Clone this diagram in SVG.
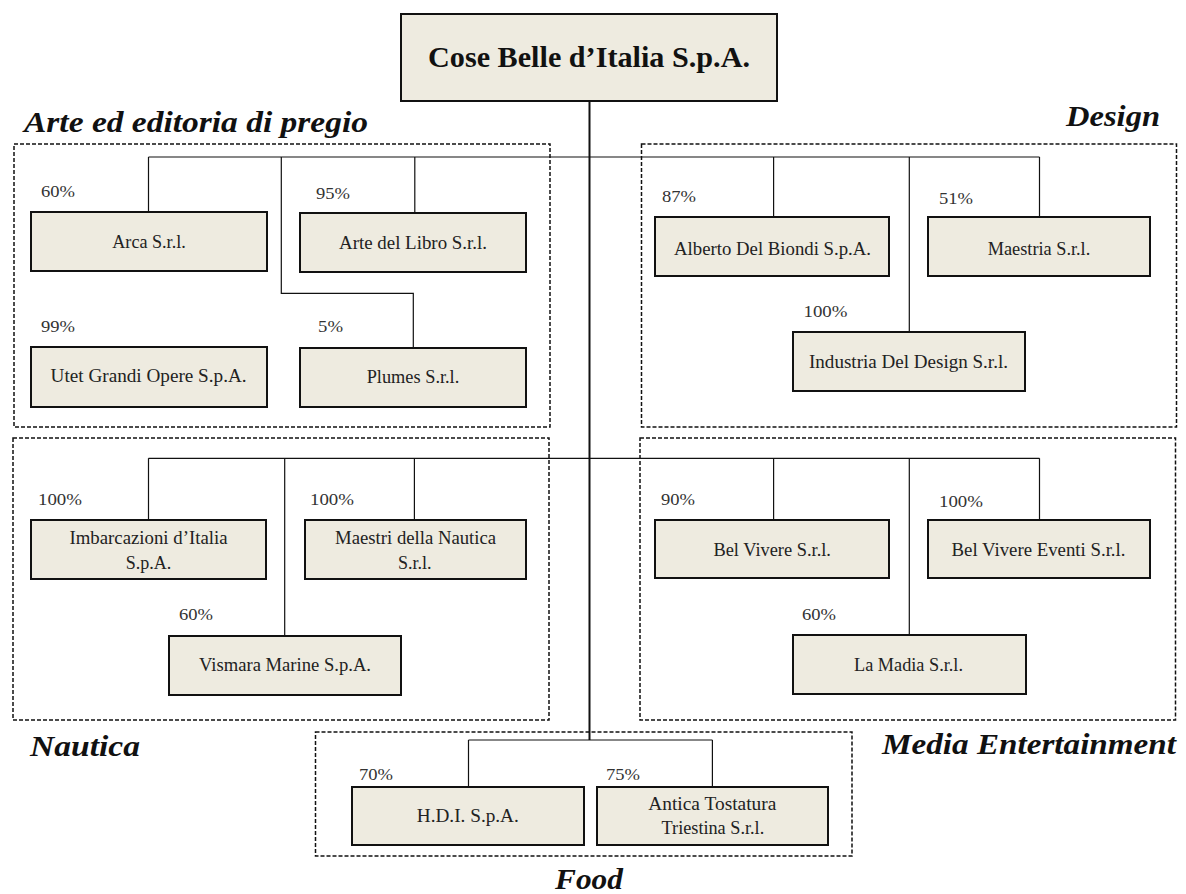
<svg xmlns="http://www.w3.org/2000/svg" width="1186" height="894" viewBox="0 0 1186 894">
<style>
.box{fill:#EEEBE0;stroke:#111;stroke-width:2}
.grp{fill:none;stroke:#111;stroke-width:1.5;stroke-dasharray:4 2}
.ln{fill:none;stroke:#111;stroke-width:1.2}
.trunk{fill:none;stroke:#111;stroke-width:2}
.t{font-family:"Liberation Serif","Times New Roman",serif;font-size:19px;fill:#222;text-anchor:middle}
.p{font-family:"Liberation Serif","Times New Roman",serif;font-size:16px;fill:#333}
.h{font-family:"Liberation Serif","Times New Roman",serif;font-size:30px;font-weight:bold;font-style:italic;fill:#111}
.title{font-family:"Liberation Serif","Times New Roman",serif;font-size:30px;font-weight:bold;fill:#111;text-anchor:middle}
</style>
<rect width="1186" height="894" fill="#fff"/>
<g id="groups">
<rect class="grp" x="14" y="144" width="536" height="283"/>
<rect class="grp" x="641.5" y="144" width="535" height="283"/>
<rect class="grp" x="13" y="438" width="536" height="282"/>
<rect class="grp" x="640" y="438" width="535.5" height="282"/>
<rect class="grp" x="315.5" y="732" width="536.5" height="124"/>
</g>
<g id="group-labels">
<text class="h" x="24" y="132" textLength="344" lengthAdjust="spacingAndGlyphs">Arte ed editoria di pregio</text>
<text class="h" x="1066" y="126" textLength="94" lengthAdjust="spacingAndGlyphs">Design</text>
<text class="h" x="30" y="756" textLength="110" lengthAdjust="spacingAndGlyphs">Nautica</text>
<text class="h" x="882" y="754" textLength="294" lengthAdjust="spacingAndGlyphs">Media Entertainment</text>
<text class="h" x="555" y="889" textLength="68" lengthAdjust="spacingAndGlyphs">Food</text>
</g>
<g id="connectors">
<path class="trunk" d="M589.5 101V740"/>
<path class="ln" d="M148.5 157H1039.5"/>
<path class="ln" d="M148.5 157V212M414.8 157V213M281.3 157V293.3H413.3V348M773.6 157V217M909.3 157V332M1039.5 157V217"/>
<path class="ln" d="M148.5 458.3H1039.5"/>
<path class="ln" d="M148.5 458.3V520M414.4 458.3V520M284.7 458.3V636M773.6 458.3V520M909.3 458.3V635M1039.5 458.3V520"/>
<path class="ln" d="M468.5 740H712.4M468.5 740V787M712.4 740V787"/>
</g>
<g id="node-root">
<rect class="box" x="401" y="14" width="376" height="87"/>
<text class="title" x="589" y="67" textLength="322" lengthAdjust="spacingAndGlyphs">Cose Belle d’Italia S.p.A.</text>
</g>
<g id="node-arca">
<rect class="box" x="31" y="212" width="236" height="59"/>
<text class="t" x="149" y="248" textLength="73.5" lengthAdjust="spacingAndGlyphs">Arca S.r.l.</text>
<text class="p" x="41" y="197" textLength="34" lengthAdjust="spacingAndGlyphs">60%</text>
</g>
<g id="node-arte-libro">
<rect class="box" x="300" y="213" width="226" height="59"/>
<text class="t" x="413" y="249" textLength="148" lengthAdjust="spacingAndGlyphs">Arte del Libro S.r.l.</text>
<text class="p" x="316" y="199" textLength="34" lengthAdjust="spacingAndGlyphs">95%</text>
</g>
<g id="node-utet">
<rect class="box" x="31" y="347" width="236" height="60"/>
<text class="t" x="148.6" y="382" textLength="196" lengthAdjust="spacingAndGlyphs">Utet Grandi Opere S.p.A.</text>
<text class="p" x="41" y="332" textLength="34" lengthAdjust="spacingAndGlyphs">99%</text>
</g>
<g id="node-plumes">
<rect class="box" x="300" y="348" width="226" height="59"/>
<text class="t" x="413" y="383" textLength="92.6" lengthAdjust="spacingAndGlyphs">Plumes S.r.l.</text>
<text class="p" x="318" y="332" textLength="25" lengthAdjust="spacingAndGlyphs">5%</text>
</g>
<g id="node-alberto">
<rect class="box" x="655" y="217" width="234" height="59"/>
<text class="t" x="772.5" y="255" textLength="197" lengthAdjust="spacingAndGlyphs">Alberto Del Biondi S.p.A.</text>
<text class="p" x="662" y="202" textLength="34" lengthAdjust="spacingAndGlyphs">87%</text>
</g>
<g id="node-maestria">
<rect class="box" x="928" y="217" width="222" height="59"/>
<text class="t" x="1039" y="255" textLength="102.5" lengthAdjust="spacingAndGlyphs">Maestria S.r.l.</text>
<text class="p" x="939" y="204" textLength="34" lengthAdjust="spacingAndGlyphs">51%</text>
</g>
<g id="node-industria">
<rect class="box" x="793" y="332" width="232" height="59"/>
<text class="t" x="908.5" y="368" textLength="199" lengthAdjust="spacingAndGlyphs">Industria Del Design S.r.l.</text>
<text class="p" x="803.5" y="317" textLength="44" lengthAdjust="spacingAndGlyphs">100%</text>
</g>
<g id="node-imbarcazioni">
<rect class="box" x="31" y="520" width="235" height="59"/>
<text class="t" x="148.5" y="544" textLength="158" lengthAdjust="spacingAndGlyphs">Imbarcazioni d’Italia</text>
<text class="t" x="148.5" y="569" textLength="45.5" lengthAdjust="spacingAndGlyphs">S.p.A.</text>
<text class="p" x="38" y="505" textLength="44" lengthAdjust="spacingAndGlyphs">100%</text>
</g>
<g id="node-maestri">
<rect class="box" x="305" y="520" width="221" height="59"/>
<text class="t" x="415.6" y="544" textLength="161" lengthAdjust="spacingAndGlyphs">Maestri della Nautica</text>
<text class="t" x="414.8" y="569" textLength="33.6" lengthAdjust="spacingAndGlyphs">S.r.l.</text>
<text class="p" x="310" y="505" textLength="44" lengthAdjust="spacingAndGlyphs">100%</text>
</g>
<g id="node-vismara">
<rect class="box" x="169" y="636" width="232" height="59"/>
<text class="t" x="285" y="671" textLength="172" lengthAdjust="spacingAndGlyphs">Vismara Marine S.p.A.</text>
<text class="p" x="179" y="620" textLength="34" lengthAdjust="spacingAndGlyphs">60%</text>
</g>
<g id="node-belvivere">
<rect class="box" x="655" y="520" width="234" height="58"/>
<text class="t" x="772.2" y="556" textLength="117.5" lengthAdjust="spacingAndGlyphs">Bel Vivere S.r.l.</text>
<text class="p" x="661" y="505" textLength="34" lengthAdjust="spacingAndGlyphs">90%</text>
</g>
<g id="node-belvivere-eventi">
<rect class="box" x="928" y="520" width="222" height="58"/>
<text class="t" x="1038.5" y="556" textLength="174" lengthAdjust="spacingAndGlyphs">Bel Vivere Eventi S.r.l.</text>
<text class="p" x="939" y="507" textLength="44" lengthAdjust="spacingAndGlyphs">100%</text>
</g>
<g id="node-lamadia">
<rect class="box" x="793" y="635" width="233" height="59"/>
<text class="t" x="908.5" y="671" textLength="109" lengthAdjust="spacingAndGlyphs">La Madia S.r.l.</text>
<text class="p" x="802" y="620" textLength="34" lengthAdjust="spacingAndGlyphs">60%</text>
</g>
<g id="node-hdi">
<rect class="box" x="352" y="787" width="232" height="58"/>
<text class="t" x="467.8" y="822" textLength="102" lengthAdjust="spacingAndGlyphs">H.D.I. S.p.A.</text>
<text class="p" x="359" y="780" textLength="34" lengthAdjust="spacingAndGlyphs">70%</text>
</g>
<g id="node-antica">
<rect class="box" x="597" y="787" width="231" height="58"/>
<text class="t" x="712.3" y="810" textLength="128" lengthAdjust="spacingAndGlyphs">Antica Tostatura</text>
<text class="t" x="712.9" y="834" textLength="102.6" lengthAdjust="spacingAndGlyphs">Triestina S.r.l.</text>
<text class="p" x="606" y="780" textLength="34" lengthAdjust="spacingAndGlyphs">75%</text>
</g>
</svg>
